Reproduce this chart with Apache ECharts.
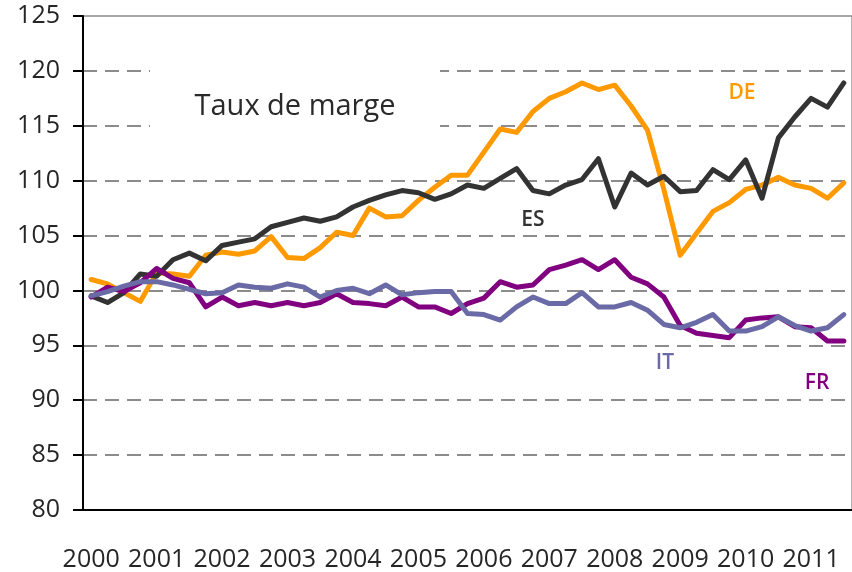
<!DOCTYPE html>
<html><head><meta charset="utf-8">
<script src="https://cdn.jsdelivr.net/npm/echarts@6/dist/echarts.min.js"></script>
<style>html,body{margin:0;padding:0;background:#fff}#c{width:852px;height:572px}</style>
</head><body><div id="c"></div>
<script>
// Years shown on the axis and quarterly categories (2000T1 .. 2011T3)
const years = [2000,2001,2002,2003,2004,2005,2006,2007,2008,2009,2010,2011];
const quarterNames = ['T1','T2','T3','T4'];
const nPoints = 47;
const categories = [];
years.forEach(y => quarterNames.forEach(q => categories.push(y + q)));
categories.length = nPoints;

const yTicks = [80,85,90,95,100,105,110,115,120,125];

const DE = [101.0,100.6,99.8,99.0,101.6,101.5,101.3,103.2,103.5,103.3,103.6,104.9,103.0,102.9,103.9,105.3,105.0,107.5,106.7,106.8,108.2,109.4,110.5,110.5,112.6,114.7,114.4,116.3,117.5,118.1,118.9,118.3,118.7,116.8,114.6,109.2,103.2,105.2,107.2,108.0,109.2,109.6,110.3,109.6,109.3,108.4,109.8];
const ES = [99.5,98.9,99.8,101.5,101.3,102.8,103.4,102.7,104.1,104.4,104.7,105.8,106.2,106.6,106.3,106.7,107.6,108.2,108.7,109.1,108.9,108.3,108.8,109.6,109.3,110.2,111.1,109.1,108.8,109.6,110.1,112.0,107.6,110.7,109.6,110.4,109.0,109.1,111.0,110.1,111.9,108.4,113.9,115.8,117.5,116.7,118.9];
const FR = [99.4,100.3,99.9,100.7,102.0,101.1,100.7,98.5,99.4,98.6,98.9,98.6,98.9,98.6,98.9,99.7,98.9,98.8,98.6,99.4,98.5,98.5,97.9,98.8,99.3,100.8,100.3,100.5,101.9,102.3,102.8,101.9,102.8,101.2,100.6,99.4,96.8,96.1,95.9,95.7,97.3,97.5,97.6,96.7,96.6,95.4,95.4];
const IT = [99.5,99.9,100.4,100.8,100.8,100.5,100.1,99.7,99.8,100.5,100.3,100.2,100.6,100.3,99.4,100.0,100.2,99.7,100.5,99.6,99.8,99.9,99.9,97.9,97.8,97.3,98.5,99.4,98.8,98.8,99.8,98.5,98.5,98.9,98.2,96.9,96.6,97.1,97.8,96.3,96.3,96.7,97.6,96.8,96.3,96.6,97.8];

const seriesNames = ['DE','ES','FR','IT'];
const seriesColors = {DE:'#FF9900', ES:'#333333', FR:'#800080', IT:'#6A6AA6'};
const seriesData = {DE, ES, FR, IT};
const title = 'Taux de marge';

const FONT = "'Open Sans', 'Liberation Sans', sans-serif";
const chart = echarts.init(document.getElementById('c'), null, {renderer:'canvas'});

const option = {
  animation: false,
  backgroundColor: '#fff',
  grid: {left: 83, top: 16, right: -9, bottom: 62, show: true, borderColor: '#8c8c8c', borderWidth: 1.3, backgroundColor: 'transparent'},
  xAxis: {
    type: 'category', data: categories, boundaryGap: true,
    axisLine: {lineStyle: {color: '#000', width: 2}},
    axisTick: {interval: 3, length: 10, lineStyle: {color: '#000', width: 2}},
    axisLabel: {interval: 3, formatter: v => v.slice(0,4), fontSize: 25, fontFamily: FONT, color: '#262626', margin: 37},
    splitLine: {show: false}
  },
  yAxis: {
    type: 'value', min: yTicks[0], max: yTicks[yTicks.length-1], interval: 5,
    axisLine: {show: true, lineStyle: {color: '#000', width: 2}},
    axisTick: {show: true, length: 10, lineStyle: {color: '#000', width: 2}},
    axisLabel: {fontSize: 25, fontFamily: FONT, color: '#262626', margin: 23},
    splitLine: {show: true, showMaxLine: false, lineStyle: {color: '#8c8c8c', width: 2, type: [14, 8]}}
  },
  series: seriesNames.map(n => ({
    name: n, type: 'line', data: seriesData[n], symbol: 'none', smooth: false,
    lineStyle: {color: seriesColors[n], width: 5, join: 'round', cap: 'round'},
    emphasis: {disabled: true}
  })),
  graphic: [
    {type: 'rect', z: 1, shape: {x: 150, y: 62, width: 290, height: 86}, style: {fill: '#fff'}},
    {type: 'text', z: 2, x: 295, y: 107, style: {text: title, fontSize: 29, fontFamily: FONT, fill: '#2a2a2a', align: 'center', verticalAlign: 'middle'}},
    {type: 'text', z: 5, x: 742, y: 93, style: {text: 'DE', fontSize: 21, fontWeight: 600, fontFamily: FONT, fill: seriesColors.DE, align: 'center', verticalAlign: 'middle'}},
    {type: 'text', z: 5, x: 533, y: 220, style: {text: 'ES', fontSize: 21, fontWeight: 600, fontFamily: FONT, fill: seriesColors.ES, align: 'center', verticalAlign: 'middle'}},
    {type: 'text', z: 5, x: 665, y: 363, style: {text: 'IT', fontSize: 21, fontWeight: 600, fontFamily: FONT, fill: seriesColors.IT, align: 'center', verticalAlign: 'middle'}},
    {type: 'text', z: 5, x: 817, y: 383, style: {text: 'FR', fontSize: 21, fontWeight: 600, fontFamily: FONT, fill: seriesColors.FR, align: 'center', verticalAlign: 'middle'}}
  ]
};
chart.setOption(option);
</script>
</body></html>
